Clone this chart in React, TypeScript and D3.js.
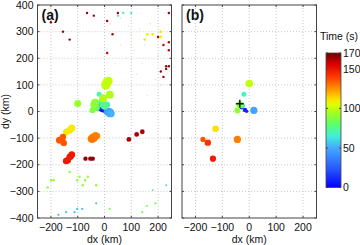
import React from "react";
import * as d3 from "d3";

// ---- Data ----
const xTicks = [-200, -100, 0, 100, 200];
const yTicks = [-400, -300, -200, -100, 0, 100, 200, 300, 400];
const cbTicks = [0, 50, 100, 150, 170];

// Panel (a) points: dx, dy (km), time (s), marker radius
const aX = [-200, -155, -130, -65, -40, 10, 30, 10, 50, 240, 200, 220, 240, 240, 230, 240, 230, 210, 220,
  50, 70, 100, 150, 160, 180, 210, 210,
  -130, -93, -62, -102, -72, -81, -31, -199, -190, -212, 19, 190, 158, 141,
  -31, -83, -102, -112, -143, -172, 230, 180,
  -130, -122, -143, -168, -155, -152, -160, -44, -50, -34, -38, -28, -46,
  -130, -137, -122, -143, -126, -71, -53, -44, 91, 120, 141,
  5, 10, 15, 20, -5, -20, -100, -35, -40, -45, -5, -12, -30, 0, 10,
  -20, -20, -15, -8, 0, 8, 16, 25, 20, 12, 18, 25];
const aY = [335, 300, 270, 370, 360, 340, 290, 220, 370, 370, 280, 250, 260, 230, 170, 170, 160, 150, 130,
  360, 370, 370, 270, 290, 290, 300, 280,
  -227, -245, -245, -258, -258, -277, -277, -258, -258, -285, -366, -345, -355, -378,
  -345, -366, -366, -378, -378, -388, -277, -295,
  -70, -62, -77, -108, -96, -118, -106, -96, -102, -90, -100, -92, -106,
  -171, -183, -162, -186, -168, -177, -177, -177, -105, -86, -76,
  100, 110, 115, 63, 50, 65, 30, 33, 25, 5, 28, 40, 15, 20, 25,
  22, 12, 8, 5, 3, 1, 0, 0, -5, 0, -2, -8];
const aT = [165, 165, 165, 165, 165, 165, 160, 160, 165, 165, 160, 160, 160, 160, 165, 165, 165, 165, 165,
  65, 70, 70, 108, 108, 108, 108, 108,
  90, 90, 90, 90, 90, 90, 90, 90, 90, 90, 88, 85, 85, 85,
  55, 55, 55, 55, 55, 55, 58, 60,
  110, 110, 110, 135, 135, 135, 135, 128, 128, 128, 128, 126, 130,
  148, 148, 148, 148, 146, 165, 165, 165, 162, 162, 162,
  100, 100, 100, 97, 97, 70, 92, 90, 90, 88, 72, 68, 82, 75, 70,
  20, 10, 8, 6, 8, 10, 12, 14, 48, 45, 50, 52];
const aR = [1.2, 1.2, 1.2, 1.2, 1.2, 1.2, 1.2, 1.2, 1.2, 1.2, 1.2, 1.2, 1.2, 1.2, 1.2, 1.2, 1.2, 1.2, 1.2,
  1.2, 1.2, 1.2, 1.4, 1.4, 1.4, 1.4, 1.4,
  1.2, 1.2, 1.2, 1.2, 1.2, 1.2, 1.2, 1.2, 1.2, 1.2, 1.1, 1.1, 1.1, 1.1,
  1.1, 1.1, 1.1, 1.1, 1.1, 1.1, 0.9, 0.9,
  3.5, 3.5, 3.2, 3.5, 3.2, 3.2, 3.2, 3.5, 3.5, 3.5, 3.5, 3.3, 3.3,
  3.3, 3.3, 3.3, 3.3, 3.3, 2.2, 2.2, 2.2, 2.4, 2.4, 2.4,
  4.8, 4.8, 4.2, 4, 4, 2.5, 3.5, 4, 3.5, 3, 4, 2.5, 3.5, 3.5, 3,
  3, 2.5, 2.2, 2.2, 2.2, 2.2, 2.2, 2.2, 4.5, 4, 3.5, 3.5];

// Faint tiny points in panel (a)
const fX = [20, 60, 90, 130, 170, 150, 110, 80, 40, 200, 190, 120, 160, 60, 140, 100, 210, 180];
const fY = [330, 350, 320, 310, 330, 250, 230, 200, 180, 210, 120, 140, 60, 250, 180, 290, 100, 20];
const fT = [20, 20, 20, 20, 20, 20, 20, 20, 20, 20, 20, 20, 20, 20, 20, 20, 20, 20];

// Panel (b) points
const bX = [0, -20, -35, -44, -25, -28, -16, -10, 17, -125, -172, -154, -44, -135];
const bY = [105, 65, 26, 4, 22, 16, 6, 1, 4, -65, -105, -117, -105, -177];
const bT = [100, 68, 88, 90, 72, 15, 8, 10, 48, 112, 135, 142, 128, 148];
const bR = [3.8, 2.5, 3.5, 3, 2.5, 2.3, 2.2, 1.8, 3.6, 3.3, 2.6, 3.2, 3.6, 3.1];

// Black cross location in (b)
const crossX = [-35];
const crossY = [29];

// Colormap stops
const cmapT = [0, 25, 50, 65, 80, 95, 105, 112, 125, 140, 155, 170];
const cmapC = ["#0000ff", "#2a5cff", "#45a8ff", "#40f0d8", "#5cff6a", "#a6ff1a", "#e0ff00", "#ffe000",
  "#ff9000", "#ff3800", "#e00000", "#700000"];

const W = 360;
const H = 245;
const TOP = 5;
const BOTTOM = 218;
const FONT = "Liberation Sans, Arial, Helvetica, sans-serif";

const color = d3.scaleLinear<string>().domain(cmapT).range(cmapC).interpolate(d3.interpolateRgb).clamp(true);

const yScale = d3.scaleLinear().domain([-400, 400]).range([BOTTOM, TOP]);

function Panel({ left, right, label, showY, xs, ys, ts, rs, faint, cross }: any) {
  const x = d3.scaleLinear().domain([-250, 250]).range([left, right]);
  const idx = d3.range(xs.length).sort((i, j) => ts[i] - ts[j]);
  return (
    <g>
      <rect x={left} y={TOP} width={right - left} height={BOTTOM - TOP} fill="#fff" />
      {xTicks.map((t) => (
        <line key={"gx" + t} x1={x(t)} x2={x(t)} y1={TOP} y2={BOTTOM} stroke="#bbb" strokeWidth={0.8} strokeDasharray="1,2" />
      ))}
      {yTicks.slice(1, -1).map((t) => (
        <line key={"gy" + t} x1={left} x2={right} y1={yScale(t)} y2={yScale(t)} stroke="#bbb" strokeWidth={0.8} strokeDasharray="1,2" />
      ))}
      {faint &&
        faint.x.map((v: number, i: number) => (
          <rect key={"f" + i} x={x(v) - 0.6} y={yScale(faint.y[i]) - 0.6} width={1.2} height={1.2} fill={color(faint.t[i])} opacity={0.18} />
        ))}
      {idx.map((i) => (
        <circle key={"p" + i} cx={x(xs[i])} cy={yScale(ys[i])} r={rs[i]} fill={color(ts[i])} />
      ))}
      {cross &&
        cross.x.map((v: number, i: number) => (
          <g key={"c" + i} stroke="#000" strokeWidth={1.3}>
            <line x1={x(v) - 4} x2={x(v) + 4} y1={yScale(cross.y[i])} y2={yScale(cross.y[i])} />
            <line x1={x(v)} x2={x(v)} y1={yScale(cross.y[i]) - 4} y2={yScale(cross.y[i]) + 4} />
          </g>
        ))}
      {xTicks.map((t) => (
        <g key={"tx" + t}>
          <line x1={x(t)} x2={x(t)} y1={BOTTOM} y2={BOTTOM - 2} stroke="#444" />
          <line x1={x(t)} x2={x(t)} y1={TOP} y2={TOP + 2} stroke="#444" />
          <text x={x(t)} y={BOTTOM + 13} textAnchor="middle" fontSize={10.5} fontFamily={FONT} fill="#111">
            {t < 0 ? "\u2212" + Math.abs(t) : t}
          </text>
        </g>
      ))}
      {yTicks.map((t) => (
        <g key={"ty" + t}>
          <line x1={left} x2={left + 2} y1={yScale(t)} y2={yScale(t)} stroke="#444" />
          <line x1={right} x2={right - 2} y1={yScale(t)} y2={yScale(t)} stroke="#444" />
          {showY && (
            <text x={left - 4} y={yScale(t) + 3.7} textAnchor="end" fontSize={10.5} fontFamily={FONT} fill="#111">
              {t < 0 ? "\u2212" + Math.abs(t) : t}
            </text>
          )}
        </g>
      ))}
      <rect x={left} y={TOP} width={right - left} height={BOTTOM - TOP} fill="none" stroke="#444" strokeWidth={1} />
      <text x={left + 4} y={TOP + 15} fontSize={14} fontWeight="bold" fontFamily={FONT} fill="#111">
        {label}
      </text>
      <text x={(left + right) / 2} y={BOTTOM + 25} textAnchor="middle" fontSize={10.5} fontFamily={FONT} fill="#111">
        dx (km)
      </text>
    </g>
  );
}

export default function App() {
  const cbX = 326;
  const cbW = 15;
  const cb = d3.scaleLinear().domain([0, 170]).range([187.5, 53]);
  const stops = d3.range(0, 171, 5);
  return (
    <svg width={W} height={H} style={{ position: "absolute", left: 0, top: 0 }}>
      <rect width={W} height={H} fill="#fff" />
      <defs>
        <linearGradient id="cbg" x1="0" y1="1" x2="0" y2="0">
          {stops.map((s) => (
            <stop key={s} offset={s / 170} stopColor={color(s)} />
          ))}
        </linearGradient>
      </defs>
      <Panel left={37.5} right={171.5} label="(a)" showY xs={aX} ys={aY} ts={aT} rs={aR} faint={{ x: fX, y: fY, t: fT }} />
      <Panel left={182} right={316.5} label="(b)" showY={false} xs={bX} ys={bY} ts={bT} rs={bR} cross={{ x: crossX, y: crossY }} />
      <text transform={`translate(9,${(TOP + BOTTOM) / 2}) rotate(-90)`} textAnchor="middle" fontSize={10.5} fontFamily={FONT} fill="#111">
        dy (km)
      </text>
      <rect x={cbX} y={cb(170)} width={cbW} height={cb(0) - cb(170)} fill="url(#cbg)" stroke="#444" strokeWidth={0.8} />
      {cbTicks.map((t) => (
        <g key={"cb" + t}>
          <line x1={cbX} x2={cbX + 2} y1={cb(t)} y2={cb(t)} stroke="#444" />
          <line x1={cbX + cbW} x2={cbX + cbW - 2} y1={cb(t)} y2={cb(t)} stroke="#444" />
          <text x={cbX + cbW + 2} y={cb(t) + 3.7} fontSize={10.5} fontFamily={FONT} fill="#111">
            {t}
          </text>
        </g>
      ))}
      <text x={339} y={40} textAnchor="middle" fontSize={10.5} fontFamily={FONT} fill="#111">
        Time (s)
      </text>
    </svg>
  );
}
